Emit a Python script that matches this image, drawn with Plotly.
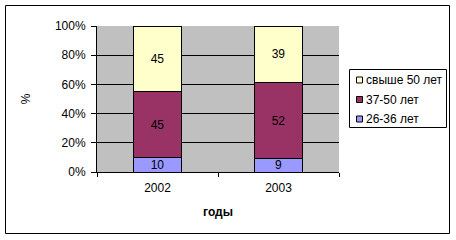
import plotly.graph_objects as go

years = ["2002", "2003"]
series_names = ["26-36 лет", "37-50 лет", "свыше 50 лет"]
values_26_36 = [10, 9]
values_37_50 = [45, 52]
values_over_50 = [45, 39]
colors = ["#9999FF", "#993366", "#FFFFCC"]
y_ticks = [0, 20, 40, 60, 80, 100]
y_tick_labels = ["0%", "20%", "40%", "60%", "80%", "100%"]
x_title = "годы"
y_title = "%"

FONT = "Arial, 'Liberation Sans', sans-serif"
W, H = 456, 240
L, R, T, B = 97, 339, 26, 172  # plot area in pixels


def px(x):
    return (x - L) / (R - L)


def py(y):
    return (B - y) / (B - T)


fig = go.Figure()
for name, vals, col in zip(series_names, [values_26_36, values_37_50, values_over_50], colors):
    fig.add_trace(go.Bar(
        x=years, y=vals, name=name,
        marker=dict(color=col, line=dict(color="black", width=1)),
        text=[str(v) for v in vals], textposition="inside",
        insidetextanchor="middle", textangle=0, constraintext="none",
        textfont=dict(family=FONT, size=12, color="black"),
        showlegend=False, width=0.4,
    ))

shapes = []
annotations = []
# outer chart border
shapes.append(dict(type="rect", xref="paper", yref="paper",
                   x0=px(5.5), x1=px(449.5), y0=py(233.5), y1=py(5.5),
                   line=dict(color="black", width=1), fillcolor="rgba(0,0,0,0)", layer="below"))
# legend box
shapes.append(dict(type="rect", xref="paper", yref="paper",
                   x0=px(349.5), x1=px(446.5), y0=py(127.5), y1=py(69.5),
                   line=dict(color="black", width=1), fillcolor="white"))
legend_items = list(zip(series_names, colors))[::-1]
for i, (name, col) in enumerate(legend_items):
    yc = 80 + i * 19.5
    shapes.append(dict(type="rect", xref="paper", yref="paper",
                       x0=px(356.5), x1=px(362.5), y0=py(yc + 3), y1=py(yc - 3),
                       line=dict(color="black", width=1), fillcolor=col))
    annotations.append(dict(xref="paper", yref="paper", x=px(364), y=py(yc),
                            xanchor="left", yanchor="middle", text=name, showarrow=False,
                            font=dict(family=FONT, size=12, color="black")))

fig.update_layout(
    width=W, height=H,
    margin=dict(l=L, r=W - R, t=T, b=H - B, pad=0),
    paper_bgcolor="white", plot_bgcolor="#C0C0C0",
    barmode="stack", bargap=0.6,
    font=dict(family=FONT, size=12, color="black"),
    shapes=shapes, annotations=annotations,
    xaxis=dict(showline=True, linecolor="black", linewidth=1, ticks="outside",
               tickson="boundaries", ticklen=4, tickcolor="black",
               ticklabelstandoff=5,
               title=dict(text="<b>" + x_title + "</b>", standoff=13,
                          font=dict(family=FONT, size=12)),
               tickfont=dict(family=FONT, size=12)),
    yaxis=dict(range=[0, 100], tickmode="array", tickvals=y_ticks, ticktext=y_tick_labels,
               showline=True, linecolor="black", linewidth=1,
               ticks="outside", ticklen=5, tickcolor="black",
               showgrid=True, gridcolor="black", gridwidth=1,
               zeroline=False, ticklabelstandoff=3,
               title=dict(text=y_title, standoff=21, font=dict(family=FONT, size=12)),
               tickfont=dict(family=FONT, size=12)),
)

fig.write_html("out.html")
